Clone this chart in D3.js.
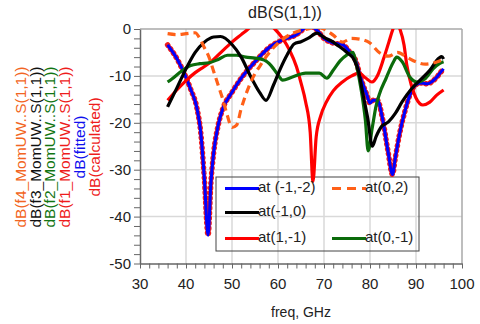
<!DOCTYPE html>
<html>
<head>
<meta charset="utf-8">
<script src="https://cdn.jsdelivr.net/npm/d3@7"></script>
<style>
  body { margin: 0; background: #fff; }
  svg text { font-family: "Liberation Sans", Arial, sans-serif; }
</style>
</head>
<body>
<div id="chart"></div>
<script>
// values: [freq GHz, dB]
var fittedData = [[36,-3.4],[38,-6.3],[39.5,-9.2],[41,-12.8],[42.4,-17],[43.2,-22],[44,-32],[44.8,-44],[45.4,-33],[46,-26.5],[47,-20.5],[48,-17],[50,-13.5],[52,-10.5],[55,-7],[58,-4],[61,-2.3],[64,-1.2],[65.5,0],[66.5,1],[67.5,0.5],[68.5,-0.3],[70,-2],[72,-3],[74,-3.3],[75.5,-4.8],[77,-7],[78,-10.5],[79.3,-14],[80,-15.8],[80.7,-15.2],[81.6,-15.2],[82.7,-19],[83.9,-26],[84.9,-31],[85.5,-27.5],[86.5,-22],[87.6,-17.5],[88.7,-14],[89.8,-12],[91,-11.5],[92.5,-11.7],[93.5,-11.2],[94.5,-10.3],[95.3,-9.3],[96,-8.5]];
var calculatedData = fittedData;
var f1Data = [[36,-15.2],[38,-13],[40,-11],[42,-9.3],[44,-8],[46,-6.5],[48,-4.6],[50,-2.8],[52,-1.2],[53.5,0],[55,1.5],[56.5,2],[58,1],[59.3,0],[61,-2],[62.5,-4.5],[64,-8],[65,-11.5],[66,-15.5],[67,-22],[67.6,-32.5],[68.3,-23],[69.3,-18.5],[70.5,-15.6],[72,-13.2],[74,-11.3],[76,-10],[77.6,-9.4],[79,-10.4],[80.4,-11.3],[81.7,-9.8],[83,-6.2],[84.1,-2.8],[85,0],[85.7,1.5],[86.5,0],[87.4,-3.4],[88,-7.7],[89,-12],[90,-14.7],[91.5,-16.2],[93,-15.6],[94.5,-14.1],[96,-13]];
var f2Data = [[36,-11.3],[37,-10.6],[39,-9],[41,-7.8],[43,-7.4],[45,-7.2],[47,-6.5],[49,-5.6],[51,-5.6],[53,-6],[55,-6.2],[57,-6.6],[58.5,-7.8],[60,-9.8],[61,-10.9],[63,-10.3],[66,-9.4],[69,-9.4],[70.6,-10.5],[72,-8.8],[73.5,-6.8],[75,-5.5],[76.3,-5],[77,-7.5],[78,-12.5],[79,-19.5],[79.6,-26],[80.5,-21],[81.3,-16.5],[82,-14],[83.5,-10.5],[85,-7.2],[85.8,-6],[87,-7],[88.7,-10.3],[90.2,-11.3],[92,-10.6],[93.7,-8.5],[95.2,-7.3],[96,-7]];
var f3Data = [[36,-16.6],[38,-12.6],[40,-8.5],[42,-5],[44,-2.8],[46,-1.7],[47.5,-1.6],[50,-3.3],[52,-6],[54,-10],[56,-13.5],[57.4,-15.2],[59,-12],[60.5,-8.5],[62,-5.5],[63.5,-3.2],[65,-2.7],[66.5,-2],[68.5,-0.9],[70,-1.8],[71.5,-2.5],[73,-3.5],[75,-5],[76.5,-6.5],[77.5,-9],[78.5,-14],[79.5,-19],[80.5,-25],[81.3,-23],[82.5,-20.8],[84,-19.8],[85.5,-18],[87,-15.5],[89,-12.8],[91,-10.8],[93,-8.8],[95,-6.2],[95.6,-5.9],[96,-6.4]];
var f4Data = [[36,-1],[38,-1.2],[40,-1],[42,-0.8],[43,-2],[44,-4],[45,-6],[46,-9],[47,-12],[48,-15],[49,-18.5],[50,-21],[51,-20.5],[52,-17],[53,-14],[54,-11.5],[55,-9.5],[56,-8],[57,-6.5],[59,-4],[61,-2.2],[63,-1],[65,-0.3],[66.5,0],[68,0.5],[70,0],[72,-1.3],[74,-2.8],[76,-2],[78,-2.2],[80,-3],[82,-5],[84,-5.8],[86,-5],[88,-6],[90,-7],[92,-7.5],[94,-7.2],[96,-6.5]];

var xTicks = [30, 40, 50, 60, 70, 80, 90, 100];
var yTicks = [0, -10, -20, -30, -40, -50];
var sideLabels = ["dB(f4_MomUW..S(1,1))", "dB(f3_MomUW..S(1,1))", "dB(f2_MomUW..S(1,1))", "dB(f1_MomUW..S(1,1))", "dB(fitted)", "dB(calculated)"];
var legendLabels = ["at (-1,-2)", "at(0,2)", "at(-1,0)", "at(1,-1)", "at(0,-1)"];

var width = 480, height = 324;
var plotLeft = 140, plotRight = 462, plotTop = 29, plotBottom = 263.5;

var svg = d3.select("#chart").append("svg").attr("width", width).attr("height", height);

var x = d3.scaleLinear().domain([30, 100]).range([plotLeft, plotRight]);
var y = d3.scaleLinear().domain([-50, 0]).range([plotBottom, plotTop]);

// grid
svg.append("g").selectAll("line").data(xTicks.slice(1, -1)).join("line")
    .attr("x1", d => x(d)).attr("x2", d => x(d)).attr("y1", plotTop).attr("y2", plotBottom)
    .attr("stroke", "#d9d9d9").attr("stroke-width", 1.5);
svg.append("g").selectAll("line").data(yTicks.slice(1, -1)).join("line")
    .attr("x1", plotLeft).attr("x2", plotRight).attr("y1", d => y(d)).attr("y2", d => y(d))
    .attr("stroke", "#d9d9d9").attr("stroke-width", 1.5);

// frame
svg.append("line").attr("x1", plotLeft).attr("x2", plotRight).attr("y1", plotTop).attr("y2", plotTop).attr("stroke", "#a8a8a8").attr("stroke-width", 1.5);
svg.append("line").attr("x1", plotRight).attr("x2", plotRight).attr("y1", plotTop).attr("y2", plotBottom).attr("stroke", "#a8a8a8").attr("stroke-width", 1.5);

var xAxis = svg.append("g").attr("transform", "translate(0," + plotBottom + ")")
    .call(d3.axisBottom(x).tickValues(d3.range(30, 101, 2)).tickSize(5).tickSizeOuter(0).tickFormat(""));
var yAxis = svg.append("g").attr("transform", "translate(" + plotLeft + ",0)")
    .call(d3.axisLeft(y).tickValues(d3.range(-50, 1, 2)).tickSize(6).tickSizeOuter(0).tickFormat(""));
[xAxis, yAxis].forEach(function(a) {
    a.select(".domain").attr("stroke", "#666").attr("stroke-width", 1.5);
    a.selectAll(".tick line").attr("stroke", "#666");
});

svg.append("g").selectAll("text").data(xTicks).join("text")
    .attr("x", d => x(d)).attr("y", 289)
    .attr("text-anchor", "middle").attr("font-size", 15).attr("fill", "#222")
    .text(d => d);
svg.append("g").selectAll("text").data(yTicks).join("text")
    .attr("x", 131).attr("y", d => y(d) + 5)
    .attr("text-anchor", "end").attr("font-size", 15).attr("fill", "#222")
    .text(d => d);

svg.append("text").attr("x", 285).attr("y", 18).attr("text-anchor", "middle")
    .attr("font-size", 16).attr("fill", "#222").text("dB(S(1,1))");
svg.append("text").attr("x", 301).attr("y", 317).attr("text-anchor", "middle")
    .attr("font-size", 14).attr("fill", "#222").text("freq, GHz");

var sideColors = ["#f26522", "#111", "#127512", "#ee1c1c", "#1010ee", "#ee1c1c"];
svg.append("g").selectAll("text").data(sideLabels).join("text")
    .attr("transform", (d, i) => "translate(" + (26 + i * 14.7) + ",147) rotate(-90)")
    .attr("text-anchor", "middle").attr("font-size", 15.5)
    .attr("fill", (d, i) => sideColors[i])
    .text(d => d);

// legend box (no fill, grid shows through)
svg.append("rect").attr("x", 216).attr("y", 177).attr("width", 203).attr("height", 74)
    .attr("fill", "none").attr("stroke", "#444").attr("stroke-width", 1);

svg.append("clipPath").attr("id", "plotclip").append("rect")
    .attr("x", plotLeft).attr("y", plotTop).attr("width", plotRight - plotLeft).attr("height", plotBottom - plotTop);

var line = d3.line().x(d => x(d[0])).y(d => y(d[1])).curve(d3.curveMonotoneX);
var plot = svg.append("g").attr("clip-path", "url(#plotclip)");

plot.append("path").attr("d", line(calculatedData)).attr("fill", "none")
    .attr("stroke", "#ee1c1c").attr("stroke-width", 5.5)
    .attr("stroke-linecap", "round").attr("stroke-dasharray", "0.5 4.5");
plot.append("path").attr("d", line(fittedData)).attr("fill", "none")
    .attr("stroke", "#0000ff").attr("stroke-width", 3);
plot.append("path").attr("d", line(f1Data)).attr("fill", "none")
    .attr("stroke", "#ff0000").attr("stroke-width", 3.2);
plot.append("path").attr("d", line(f2Data)).attr("fill", "none")
    .attr("stroke", "#0b6b0b").attr("stroke-width", 3.2);
plot.append("path").attr("d", line(f3Data)).attr("fill", "none")
    .attr("stroke", "#000").attr("stroke-width", 3.2);
plot.append("path").attr("d", line(f4Data)).attr("fill", "none")
    .attr("stroke", "#ff6018").attr("stroke-width", 3.2).attr("stroke-dasharray", "8 5");

// legend entries
var legendStyle = [
    {col: 0, row: 0, color: "#0000ff", dash: null},
    {col: 1, row: 0, color: "#ff6018", dash: "9 6"},
    {col: 0, row: 1, color: "#000", dash: null},
    {col: 0, row: 2, color: "#ff0000", dash: null},
    {col: 1, row: 2, color: "#0b6b0b", dash: null}
];
var rowY = [188.5, 212.5, 238.5];
var colX = [225, 332];
var entries = svg.append("g").selectAll("g").data(legendLabels).join("g");
entries.append("line")
    .attr("x1", (d, i) => colX[legendStyle[i].col]).attr("x2", (d, i) => colX[legendStyle[i].col] + 34)
    .attr("y1", (d, i) => rowY[legendStyle[i].row]).attr("y2", (d, i) => rowY[legendStyle[i].row])
    .attr("stroke", (d, i) => legendStyle[i].color).attr("stroke-width", 3.2)
    .attr("stroke-dasharray", (d, i) => legendStyle[i].dash);
entries.append("text")
    .attr("x", (d, i) => colX[legendStyle[i].col] + 33).attr("y", (d, i) => rowY[legendStyle[i].row] + 3)
    .attr("font-size", 15).attr("fill", "#222")
    .text(d => d);
</script>
</body>
</html>
